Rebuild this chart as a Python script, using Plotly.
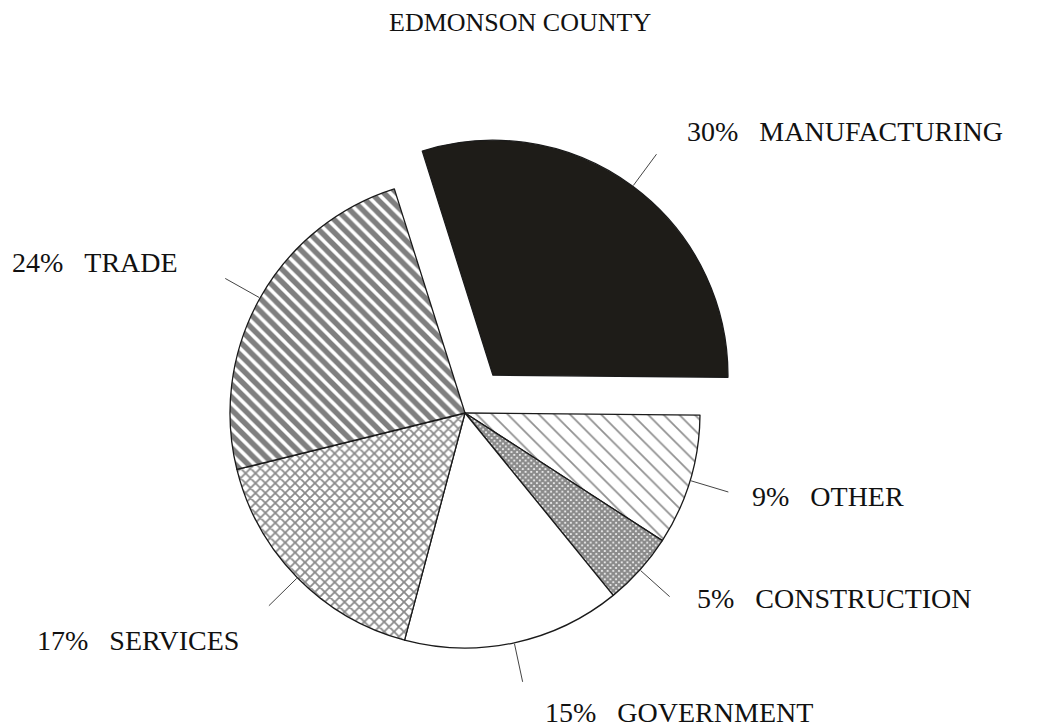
import math
import plotly.graph_objects as go

# ---- data ----
categories = ["MANUFACTURING", "OTHER", "CONSTRUCTION", "GOVERNMENT", "SERVICES", "TRADE"]
values = [30, 9, 5, 15, 17, 24]
pulls = [0.2, 0, 0, 0, 0, 0]
title_text = "EDMONSON COUNTY"

# ---- styles ----
fill_colors = ["#1e1c18", "white", "white", "white", "white", "white"]
pat_shapes = ["", "\\", "x", "", "x", "\\"]
pat_fg = ["black", "#222222", "#151515", "black", "#161616", "black"]
pat_size = [8, 11, 4, 8, 7, 9]
pat_solid = [0.3, 0.16, 0.8, 0.3, 0.45, 0.6]

# page offset of the plot (browser body margin)
OFF = 8
# label placement (page pixels: left edge / vertical middle)
label_pos = {
    "MANUFACTURING": (685, 131),
    "OTHER": (750, 497),
    "CONSTRUCTION": (695, 598),
    "GOVERNMENT": (543, 712),
    "SERVICES": (35, 640),
    "TRADE": (10, 263),
}
title_pos = (520, 22)

W, H = 1045, 728
pie_cx, pie_cy, pie_r = 465 - OFF, 413 - OFF, 235
half = pie_r * (1 + max(pulls))
dom_x = [(pie_cx - half) / W, (pie_cx + half) / W]
dom_y = [(H - pie_cy - half) / H, (H - pie_cy + half) / H]
rotation = -17.5
FONT = "Liberation Serif, Times New Roman, serif"
TXT = "#111111"

fig = go.Figure(go.Pie(
    labels=categories,
    values=values,
    sort=False,
    direction="clockwise",
    rotation=rotation,
    pull=pulls,
    textinfo="none",
    hoverinfo="label+percent",
    showlegend=False,
    domain=dict(x=dom_x, y=dom_y),
    marker=dict(
        colors=fill_colors,
        line=dict(color="#1a1a1a", width=1.3),
        pattern=dict(shape=pat_shapes, fgcolor=pat_fg, size=pat_size,
                     solidity=pat_solid, fillmode="overlay"),
    ),
))

# pie geometry (same rules plotly uses) to place leader lines
cx = W * (dom_x[0] + dom_x[1]) / 2
cy = H * (1 - (dom_y[0] + dom_y[1]) / 2)
r = min(W * (dom_x[1] - dom_x[0]), H * (dom_y[1] - dom_y[0])) / (2 * (1 + max(pulls)))
total = sum(values)

shapes = []
annotations = []
ang = rotation
for cat, v, p in zip(categories, values, pulls):
    span = 360 * v / total
    mid = math.radians(ang + span / 2)
    ang += span
    off = p * r
    r0 = r + off + 1
    r1 = r * 1.17 + off
    x0, y0 = cx + r0 * math.sin(mid), cy - r0 * math.cos(mid)
    x1, y1 = cx + r1 * math.sin(mid), cy - r1 * math.cos(mid)
    shapes.append(dict(type="line", xref="paper", yref="paper",
                       x0=x0 / W, y0=1 - y0 / H, x1=x1 / W, y1=1 - y1 / H,
                       line=dict(color="#444444", width=1)))
    lx, ly = label_pos[cat]
    pct = round(100 * v / total)
    annotations.append(dict(
        text=f"{pct}%\u00a0\u00a0\u00a0{cat}", xref="paper", yref="paper",
        x=(lx - OFF) / W, y=1 - (ly - OFF) / H, xanchor="left", yanchor="middle",
        showarrow=False, font=dict(family=FONT, size=28, color=TXT)))

annotations.append(dict(
    text=title_text, xref="paper", yref="paper",
    x=(title_pos[0] - OFF) / W, y=1 - (title_pos[1] - OFF) / H,
    xanchor="center", yanchor="middle", showarrow=False,
    font=dict(family=FONT, size=26, color=TXT)))

fig.update_layout(
    width=W, height=H,
    margin=dict(l=0, r=0, t=0, b=0),
    paper_bgcolor="white", plot_bgcolor="white",
    shapes=shapes, annotations=annotations,
)

fig.write_html("out.html")
